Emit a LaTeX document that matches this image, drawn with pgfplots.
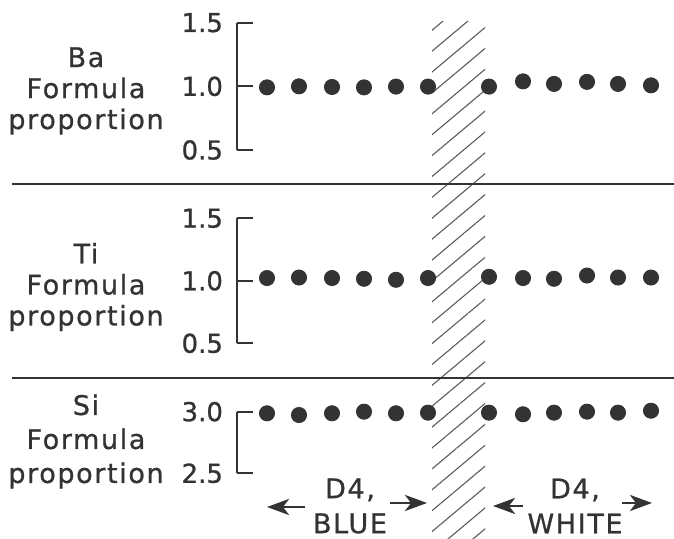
\documentclass[border=0pt]{standalone}
\usepackage{pgfplots}
\pgfplotsset{compat=1.18}
\usepackage{fontspec}
\setmainfont{DejaVu Sans}[FakeBold=0.8]
\newfontfamily\labfont[LetterSpace=6,FakeBold=0.8]{DejaVu Sans}
\usetikzlibrary{arrows.meta,patterns.meta}
\definecolor{ink}{HTML}{333333}
\pgfplotsset{
  panel/.style={
    anchor=south west, scale only axis, width=218.5pt,
    xmin=237, xmax=674,
    axis x line=none, axis y line=left,
    y axis line style={-, line width=1pt, draw=ink},
    tick align=inside, major tick length=8pt,
    every tick/.style={ink, line width=1pt},
    yticklabel style={font=\fontsize{13}{15}\selectfont, text=ink, xshift=-3.5pt},
    clip=false,
  },
  dots/.style={only marks, mark=*, mark size=3.8pt, color=ink, mark options={fill=ink, draw=ink}},
}
\begin{document}
\begin{tikzpicture}
\path[use as bounding box] (0,0) rectangle (337pt,269.5pt);
\fill[white] (0,0) rectangle (337pt,269.5pt);
% hatched band
\path[pattern={Lines[angle=40,distance=8pt,line width=0.55pt]}, pattern color=ink!80] (216pt,0pt) rectangle (242.5pt,258.5pt);
% separators
\draw[ink, line width=1pt] (6pt,177.5pt) -- (337pt,177.5pt);
\draw[ink, line width=1pt] (6pt,80.5pt) -- (337pt,80.5pt);

% Ba panel
\begin{axis}[panel, at={(118.5pt,194.5pt)}, height=63.65pt,
  ymin=0.5, ymax=1.5, ytick={0.5,1,1.5}, yticklabels={0.5,1.0,1.5}]
\addplot[dots] coordinates {(267,0.992) (299,1.0) (332,0.995) (364,0.992) (396,0.998) (428,0.998)};
\addplot[dots] coordinates {(489,0.998) (523,1.039) (554,1.019) (587,1.035) (618,1.019) (651,1.008)};
\end{axis}

% Ti panel
\begin{axis}[panel, at={(118.5pt,97.85pt)}, height=62.5pt,
  ymin=0.5, ymax=1.5, ytick={0.5,1,1.5}, yticklabels={0.5,1.0,1.5}]
\addplot[dots] coordinates {(267,1.022) (299,1.026) (332,1.022) (364,1.016) (396,1.008) (428,1.022)};
\addplot[dots] coordinates {(489,1.032) (523,1.022) (554,1.016) (587,1.042) (618,1.026) (651,1.026)};
\end{axis}

% Si panel
\begin{axis}[panel, at={(118.5pt,32.85pt)}, height=30.8pt,
  ymin=2.5, ymax=3.0, ytick={2.5,3.0}, yticklabels={2.5,3.0}]
\addplot[dots] coordinates {(267,2.987) (299,2.973) (332,2.987) (364,3.0) (396,2.987) (428,2.992)};
\addplot[dots] coordinates {(489,2.992) (523,2.979) (554,2.992) (587,3.0) (618,2.992) (651,3.008)};
\end{axis}

% left labels
\node[align=center, text=ink, font=\labfont\fontsize{13.5}{15.5}\selectfont] at (43pt,224pt) {Ba\\Formula\\proportion};
\node[align=center, text=ink, font=\labfont\fontsize{13.5}{15.5}\selectfont] at (43pt,126pt) {Ti\\Formula\\proportion};
\node[align=center, text=ink, font=\labfont\fontsize{13.5}{17}\selectfont] at (43pt,48.75pt) {Si\\Formula\\proportion};

% region labels
\node[align=center, text=ink, font=\labfont\fontsize{13.5}{17.5}\selectfont] at (175pt,16.5pt) {D4,\\BLUE};
\node[align=center, text=ink, font=\labfont\fontsize{13.5}{17.5}\selectfont] at (287.5pt,16.5pt) {D4,\\WHITE};
\draw[ink, line width=1.4pt, -{Stealth[length=11pt,width=8pt,inset=3pt]}] (152.5pt,16pt) -- (133.5pt,16pt);
\draw[ink, line width=1.4pt, -{Stealth[length=11pt,width=8pt,inset=3pt]}] (195pt,18pt) -- (213.5pt,18pt);
\draw[ink, line width=1.4pt, -{Stealth[length=11pt,width=8pt,inset=3pt]}] (261.5pt,16.5pt) -- (246.5pt,16.5pt);
\draw[ink, line width=1.4pt, -{Stealth[length=11pt,width=8pt,inset=3pt]}] (311pt,18pt) -- (326pt,18pt);
\end{tikzpicture}
\end{document}
